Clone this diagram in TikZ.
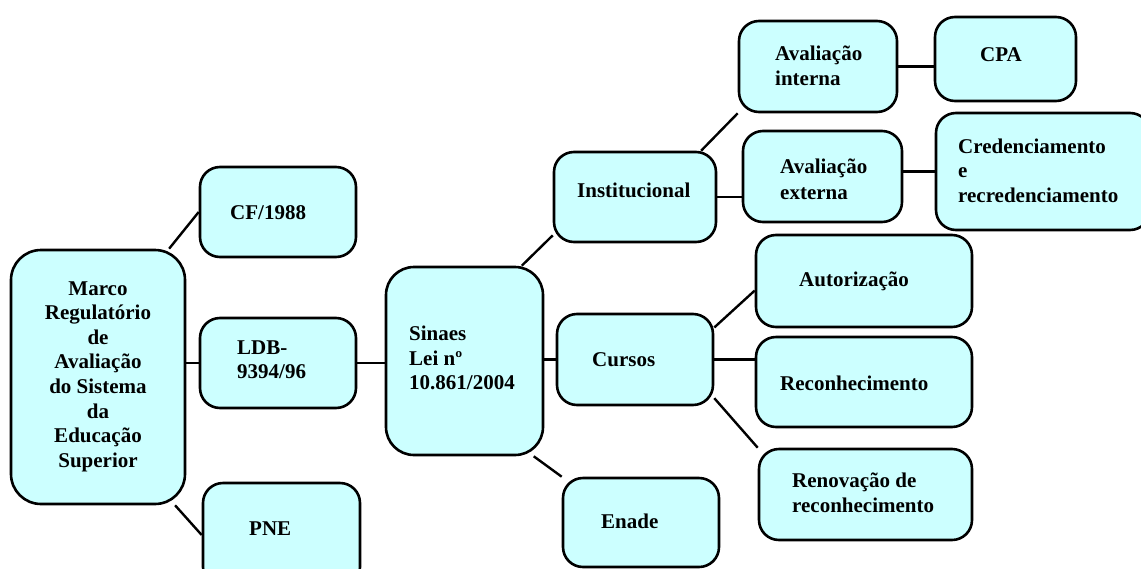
\documentclass[tikz,border=0pt]{standalone}
\usepackage{fontspec}
\setmainfont{Liberation Serif}
\begin{document}
\begin{tikzpicture}[x=1pt,y=-1pt,
  box/.style={draw=black,line width=2.6pt,fill=boxfill,rounded corners=20pt,inner sep=0pt},
  conn/.style={line width=2.4pt,black},
  lbl/.style={font=\fontsize{21}{24.5}\selectfont\bfseries,inner sep=0pt,anchor=base west},
  clbl/.style={lbl,anchor=base}]
\definecolor{boxfill}{RGB}{204,255,255}
\useasboundingbox (0,0) rectangle (1141,568);
\clip (0,0) rectangle (1141,568);
% boxes
\node[box,rounded corners=30pt,minimum width=174pt,minimum height=254pt] (marco) at (98,377) {};
\node[box,minimum width=156pt,minimum height=90pt] (cf) at (278,212) {};
\node[box,minimum width=156pt,minimum height=90pt] (ldb) at (278,363) {};
\node[box,minimum width=157pt,minimum height=104pt] (pne) at (281.5,535) {};
\node[box,rounded corners=28pt,minimum width=157pt,minimum height=188pt] (sinaes) at (464.5,361) {};
\node[box,minimum width=162pt,minimum height=90pt] (inst) at (635,197) {};
\node[box,minimum width=156pt,minimum height=91pt] (cursos) at (635,359.5) {};
\node[box,minimum width=156pt,minimum height=89pt] (enade) at (641,522.5) {};
\node[box,minimum width=158pt,minimum height=91pt] (avi) at (818,66.5) {};
\node[box,minimum width=141pt,minimum height=84pt] (cpa) at (1005.5,59) {};
\node[box,minimum width=159pt,minimum height=91pt] (avx) at (822.5,176.5) {};
\node[box,minimum width=214pt,minimum height=117pt] (cred) at (1043,171.5) {};
\node[box,minimum width=216pt,minimum height=92pt] (aut) at (864,281) {};
\node[box,minimum width=216pt,minimum height=90pt] (rec) at (864,382) {};
\node[box,minimum width=213pt,minimum height=91pt] (ren) at (865.5,494.5) {};
% connectors
\draw[conn] (marco.61) -- (cf.west);
\draw[conn] (ldb.west) -- (ldb.west -| marco.east);
\draw[conn] (marco.-59) -- (pne.west);
\draw[conn] (ldb.east) -- (ldb.east -| sinaes.west);
\draw[conn] (sinaes.59) -- (inst.205);
\draw[conn] (cursos.west) -- (cursos.west -| sinaes.east);
\draw[conn] (sinaes.-54) -- (enade.north west);
\draw[conn] (inst.35) -- (avi.south west);
\draw[conn] (inst.east) -- (inst.east -| avx.west);
\draw[conn] (avi.east) -- (avi.east -| cpa.west);
\draw[conn] (cred.west) -- (cred.west -| avx.east);
\draw[conn] (cursos.22) -- (aut.185);
\draw[conn] (cursos.east) -- (cursos.east -| rec.west);
\draw[conn] (cursos.-26) -- (ren.north west);
% texts
\node[clbl] (m1) at (98,295) {Marco};
\node[clbl] (m2) at (98,319.6) {Regulatório};
\node[clbl] (m3) at (98,344.2) {de};
\node[clbl] (m4) at (98,368.8) {Avaliação};
\node[clbl] (m5) at (98,393.4) {do Sistema};
\node[clbl] (m6) at (98,418) {da};
\node[clbl] (m7) at (98,442.6) {Educação};
\node[clbl] (m8) at (98,467.2) {Superior};
\node[lbl] (tcf) at (230,219) {CF/1988};
\node[lbl] (tl1) at (237,354) {LDB-};
\node[lbl] (tl2) at (237,378) {9394/96};
\node[lbl] (tpne) at (249,535) {PNE};
\node[lbl] (ts1) at (409,340) {Sinaes};
\node[lbl] (ts2) at (409,365) {Lei nº};
\node[lbl] (ts3) at (409,389) {10.861/2004};
\node[lbl] (tinst) at (577,197) {Institucional};
\node[lbl] (tcur) at (592,366) {Cursos};
\node[lbl] (tena) at (601,528) {Enade};
\node[lbl] (tai1) at (775,60) {Avaliação};
\node[lbl] (tai2) at (775,85) {interna};
\node[lbl] (tcpa) at (980,61) {CPA};
\node[lbl] (tax1) at (780,173) {Avaliação};
\node[lbl] (tax2) at (780,199) {externa};
\node[lbl] (tcr1) at (958,153) {Credenciamento};
\node[lbl] (tcr2) at (958,177.5) {e};
\node[lbl] (tcr3) at (958,202) {recredenciamento};
\node[lbl] (taut) at (799,286) {Autorização};
\node[lbl] (trec) at (780,390) {Reconhecimento};
\node[lbl] (trn1) at (792,487) {Renovação de};
\node[lbl] (trn2) at (792,512) {reconhecimento};
\end{tikzpicture}
\end{document}
